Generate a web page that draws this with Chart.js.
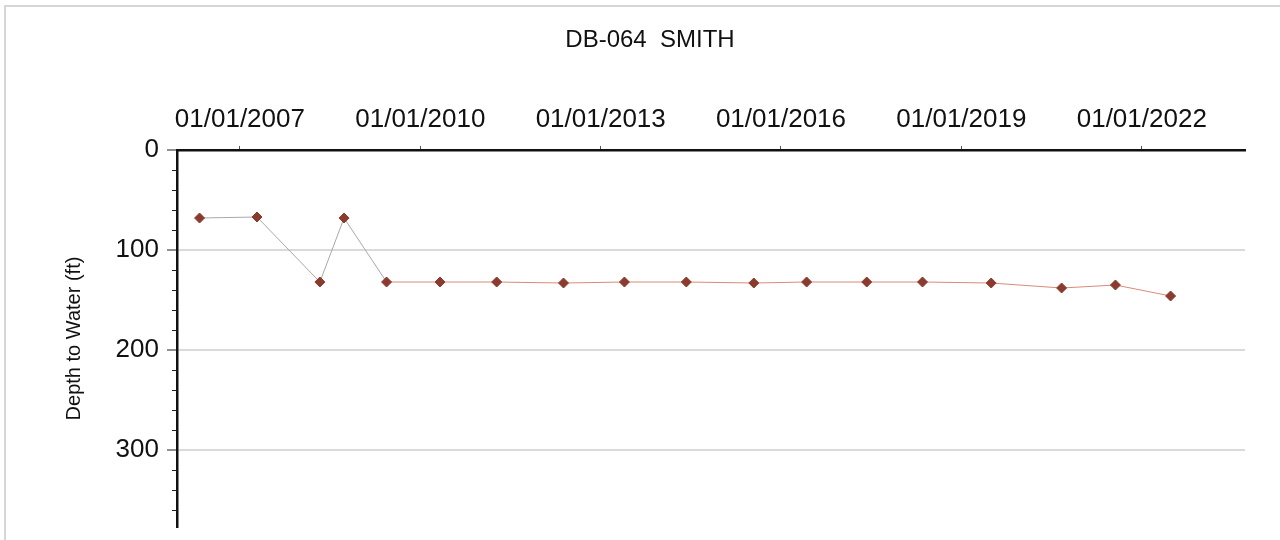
<!DOCTYPE html>
<html>
<head>
<meta charset="utf-8">
<script src="https://cdn.jsdelivr.net/npm/chart.js@4.4.1/dist/chart.umd.min.js"></script>
<style>
    html, body { margin: 0; padding: 0; background: #fff; }
    #wrap { position: relative; width: 1280px; height: 540px; overflow: hidden; }
    #frame { position: absolute; left: 4px; top: 5px; width: 1300px; height: 560px;
             border-left: 2px solid #d6d6d6; border-top: 2px solid #d6d6d6; }
    canvas { position: absolute; left: 0; top: 0; }
</style>
</head>
<body>
<div id="wrap">
    <div id="frame"></div>
    <canvas id="chart" width="1280" height="540"></canvas>
</div>
<script>
// Measurement dates and depth to water (ft)
const sampleDates = [
    '2006-05-01', '2007-04-15', '2008-05-01', '2008-09-25', '2009-06-10',
    '2010-05-01', '2011-04-10', '2012-05-20', '2013-05-25', '2014-06-05',
    '2015-07-20', '2016-06-05', '2017-06-05', '2018-05-10', '2019-07-01',
    '2020-09-01', '2021-07-25', '2022-06-25'
];
const depthToWater = [
    68, 67, 132, 68, 132,
    132, 132, 133, 132, 132,
    133, 132, 132, 132, 133,
    138, 135, 146
];
const tickYears = [2007, 2010, 2013, 2016, 2019, 2022];
const xRange = ['2005-12-15', '2023-09-20'];
const depthTicks = [0, 100, 200, 300];
const depthMax = 377;

const ts = d => Date.parse(d + 'T00:00:00Z');
const points = sampleDates.map((d, i) => ({ x: ts(d), y: depthToWater[i] }));
const fontFamily = 'Liberation Sans, Arial, sans-serif';

// minor ticks on the depth axis, every 20 ft
const minorTicks = {
    id: 'minorTicks',
    afterDraw(chart) {
        const y = chart.scales.y;
        const ctx = chart.ctx;
        ctx.save();
        ctx.strokeStyle = '#222';
        ctx.lineWidth = 1;
        for (let v = 20; v < depthMax; v += 20) {
            if (v % 100 === 0) continue;
            const py = Math.round(y.getPixelForValue(v)) + 0.5;
            ctx.beginPath();
            ctx.moveTo(y.right - 5, py);
            ctx.lineTo(y.right, py);
            ctx.stroke();
        }
        ctx.restore();
    }
};

new Chart(document.getElementById('chart'), {
    type: 'line',
    data: {
        datasets: [{
            label: 'DB-064',
            data: points,
            borderWidth: 1,
            borderColor: '#d98a78',
            segment: {
                borderColor: c => c.p0DataIndex < 4 ? '#a8a8a8' : '#d98a78'
            },
            pointStyle: 'rectRot',
            pointRadius: 5,
            pointBackgroundColor: '#8b3a2e',
            pointBorderColor: '#8b3a2e',
            pointBorderWidth: 1,
            tension: 0
        }]
    },
    options: {
        responsive: false,
        animation: false,
        layout: { padding: { left: 20, right: 0, top: 0, bottom: 13 } },
        plugins: {
            legend: { display: false },
            tooltip: { enabled: false },
            title: {
                display: true,
                text: 'DB-064  SMITH',
                color: '#111',
                font: { family: fontFamily, size: 24, weight: 'normal' },
                padding: { top: 26, bottom: 0 }
            }
        },
        scales: {
            x: {
                type: 'linear',
                position: 'top',
                min: ts(xRange[0]),
                max: ts(xRange[1]),
                afterBuildTicks: s => { s.ticks = tickYears.map(yr => ({ value: Date.UTC(yr, 0, 1) })); },
                afterFit: s => { s.height = 95.2; },
                ticks: {
                    autoSkip: false,
                    maxRotation: 0,
                    padding: 11,
                    color: '#111',
                    font: { family: fontFamily, size: 26 },
                    callback: v => '01/01/' + new Date(v).getUTCFullYear()
                },
                grid: { drawOnChartArea: false, drawTicks: true, tickLength: 4, tickColor: '#555' },
                border: { display: true, color: '#111', width: 2.5 }
            },
            y: {
                type: 'linear',
                reverse: true,
                min: 0,
                max: depthMax,
                afterBuildTicks: s => { s.ticks = depthTicks.map(v => ({ value: v })); },
                afterFit: s => { s.width = 157; s.paddingTop = 0; s.paddingBottom = 0; },
                ticks: {
                    padding: 8,
                    color: '#111',
                    font: { family: fontFamily, size: 26 }
                },
                grid: {
                    color: c => c.tick && c.tick.value > 0 ? '#dadada' : 'rgba(0,0,0,0)',
                    lineWidth: 2,
                    tickColor: '#222',
                    tickLength: 10,
                    tickWidth: 1
                },
                border: { display: true, color: '#111', width: 2.5 },
                title: {
                    display: true,
                    text: 'Depth to Water (ft)',
                    color: '#111',
                    font: { family: fontFamily, size: 20 },
                    padding: { top: 42, bottom: 0 }
                }
            },
            // empty right-hand strip so the plot stops short of the edge
            yRight: {
                type: 'linear',
                position: 'right',
                display: true,
                afterFit: s => { s.width = 35; s.paddingTop = 0; s.paddingBottom = 0; },
                ticks: { display: false },
                grid: { display: false, drawTicks: false },
                border: { display: false }
            }
        }
    },
    plugins: [minorTicks]
});
</script>
</body>
</html>
